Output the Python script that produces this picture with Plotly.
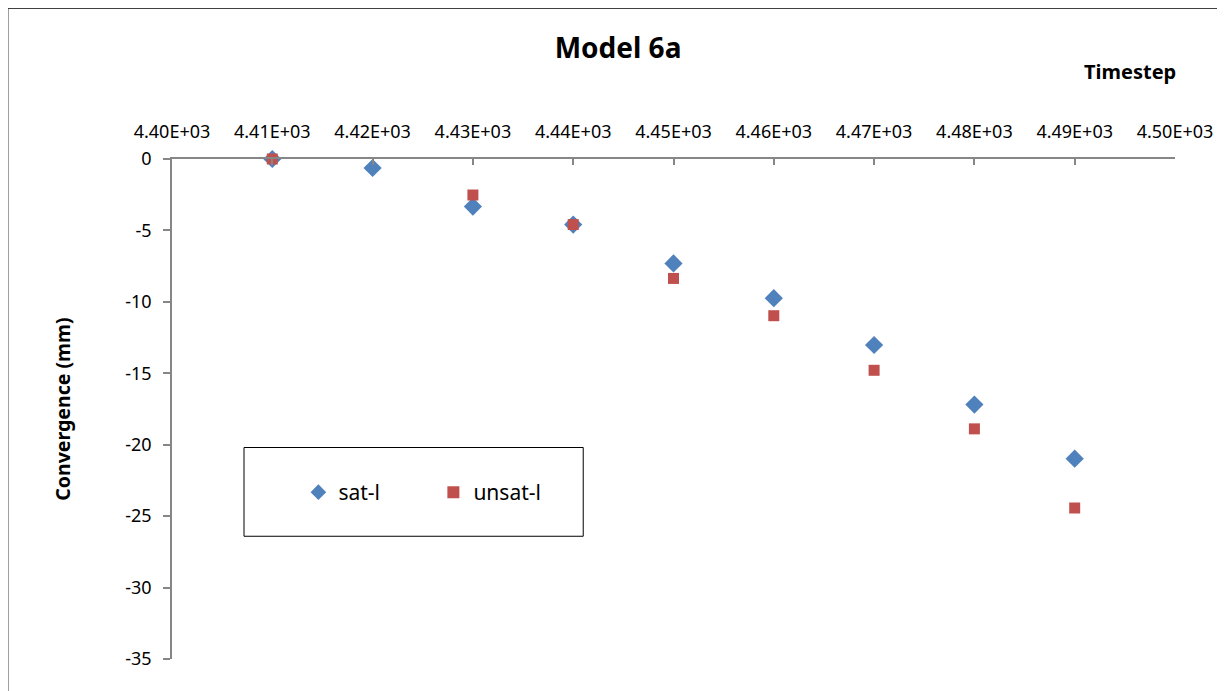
import plotly.graph_objects as go

timestep = [4410, 4420, 4430, 4440, 4450, 4460, 4470, 4480, 4490]
sat_l = [0.0, -0.63, -3.33, -4.59, -7.31, -9.74, -13.02, -17.19, -20.98]
unsat_l = [0.0, None, -2.52, -4.59, -8.36, -10.97, -14.79, -18.89, -24.43]

x_ticks = [4400, 4410, 4420, 4430, 4440, 4450, 4460, 4470, 4480, 4490, 4500]
x_labels = ["4.40E+03", "4.41E+03", "4.42E+03", "4.43E+03", "4.44E+03", "4.45E+03",
            "4.46E+03", "4.47E+03", "4.48E+03", "4.49E+03", "4.50E+03"]
y_ticks = [0, -5, -10, -15, -20, -25, -30, -35]
y_labels = ["0", "-5", "-10", "-15", "-20", "-25", "-30", "-35"]

font = "Noto Sans"
axis_grey = "#868686"

fig = go.Figure()
fig.add_scatter(x=timestep, y=sat_l, name="sat-l", mode="markers", cliponaxis=False,
                marker=dict(symbol="diamond", size=14, color="#4F81BD"))
fig.add_scatter(x=timestep, y=unsat_l, name="unsat-l", mode="markers", cliponaxis=False,
                marker=dict(symbol="square", size=11, color="#C0504D"))

fig.update_layout(
    width=1225, height=691,
    margin=dict(l=164, r=58, t=151, b=40),
    paper_bgcolor="white", plot_bgcolor="white",
    font=dict(family=font, size=18, color="black"),
    title=dict(text="<b>Model 6a</b>", x=0.498, xanchor="center", y=0.942, yanchor="middle",
               font=dict(size=28)),
    legend=dict(orientation="h", x=0.126, xanchor="left", y=0.333, yanchor="middle",
                bgcolor="rgba(0,0,0,0)", font=dict(size=21), entrywidth=90,
                itemsizing="constant"),
    showlegend=True,
)
fig.update_xaxes(
    range=[4400, 4500], side="top", tickvals=x_ticks, ticktext=x_labels,
    ticks="inside", ticklen=6, tickcolor=axis_grey, tickwidth=1.5,
    showline=True, linecolor=axis_grey, linewidth=1.5,
    showgrid=False, zeroline=False, ticklabelstandoff=12,
)
fig.update_yaxes(
    range=[-35, 0], tickvals=y_ticks, ticktext=y_labels,
    ticks="outside", ticklen=7, tickcolor=axis_grey, tickwidth=1.5,
    showline=True, linecolor=axis_grey, linewidth=1.5,
    showgrid=False, zeroline=False, ticklabelstandoff=8,
    title=dict(text="<b>Convergence (mm)</b>", font=dict(size=19.5), standoff=49),
)
fig.add_annotation(text="<b>Timestep</b>", xref="paper", yref="paper",
                   x=1.003, y=1.175, xanchor="right", yanchor="middle",
                   showarrow=False, font=dict(size=20))
# legend box
fig.add_shape(type="rect", xref="paper", yref="paper",
              x0=0.0718, x1=0.41, y0=0.2455, y1=0.423,
              line=dict(color="black", width=1), layer="below")
# outer chart border
fig.add_shape(type="rect", xref="paper", yref="paper",
              x0=-0.1635, x1=1.047, y0=-0.12, y1=1.301,
              line=dict(color="#404040", width=1), layer="below")

fig.write_html("out.html")
